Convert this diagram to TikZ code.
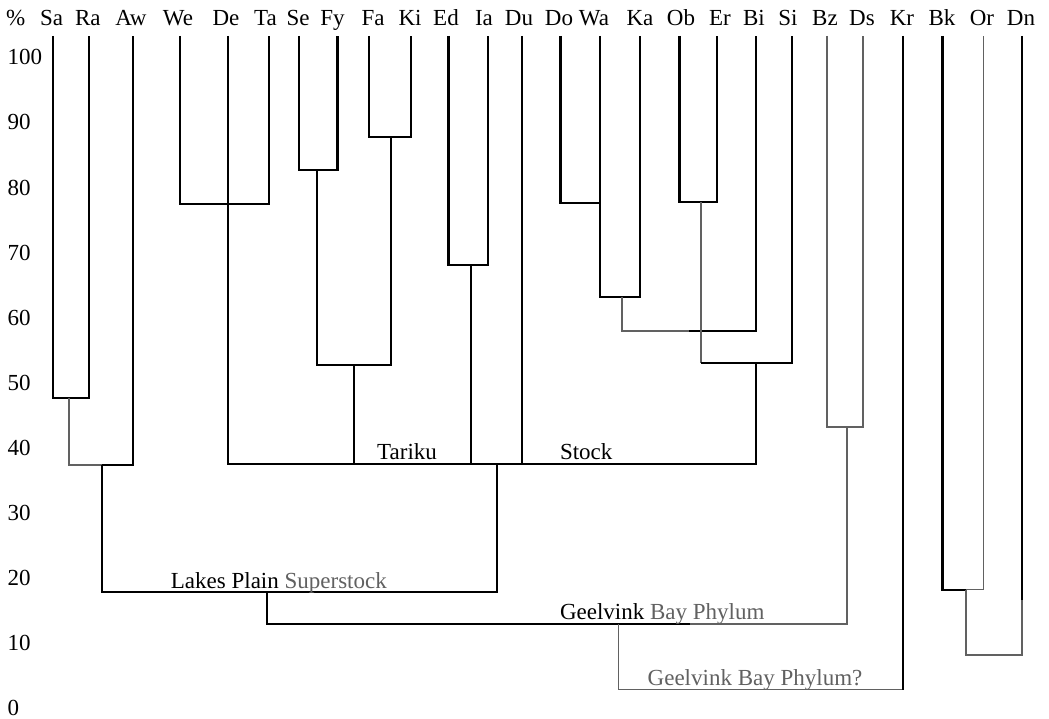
\documentclass[tikz,border=0pt]{standalone}
\usepackage{fontspec}
\setmainfont{Liberation Serif}
\definecolor{scan}{gray}{0.38}
\begin{document}
\begin{tikzpicture}[x=1pt,y=-1pt,
  br/.style={line width=2.1pt, line join=miter, black},
  gbr/.style={line width=1.7pt, line join=miter, scan},
  leaf/.style={anchor=base, inner sep=0pt, font=\fontsize{23}{27}\selectfont},
  axn/.style={anchor=base west, inner sep=0pt, font=\fontsize{23}{27}\selectfont},
  grp/.style={anchor=base west, inner sep=0pt, font=\fontsize{23}{27}\selectfont}]
\useasboundingbox[fill=white] (0,0) rectangle (1049,719);

% header labels
\node[leaf] (lpc) at (15.8,25.5) {\%};
\foreach \n/\x in {Sa/51.7,Ra/87.8,Aw/131,We/178,De/226,Ta/265.5,Se/298,Fy/332.5,
  Fa/373,Ki/410,Ed/446,Ia/484,Du/519,Do/559,Wa/594,Ka/640,Ob/681,Er/720,Bi/754,
  Si/788,Bz/825,Ds/862,Kr/902,Bk/942,Or/982,Dn/1021}
  \node[leaf] (l\n) at (\x,25.5) {\n};

% axis numbers
\foreach \v [count=\i from 0] in {100,90,80,70,60,50,40,30,20,10,0}
  \node[axn] (ax\v) at (7.5,{57.3+65.1*\i+7.6}) {\v};

% tops of leaf lines
\foreach \n/\x in {Sa/52.7,Ra/89,Aw/133.3,We/180,De/228.3,Ta/269,Se/299,Fy/337.5,
  Fa/369.3,Ki/411,Ed/448.5,Ia/487.7,Du/521.7,Do/560.5,Wa/600.3,Ka/639.8,Ob/679.5,
  Er/716.6,Bi/756.3,Si/792,Bz/827,Ds/863,Kr/902.8,Bk/942.5,Or/983.5,Dn/1021.7}
  \coordinate (t\n) at (\x,36);

% join points
\coordinate (jSaRa) at (69.3,398);
\coordinate (jSRA)  at (102,465);
\coordinate (jWT)   at (228.3,204.2);
\coordinate (jTar)  at (497,464);
\coordinate (jSF)   at (316.8,170);
\coordinate (jFK)   at (391,137.3);
\coordinate (jSFFK) at (354.3,365);
\coordinate (jEI)   at (471,265.4);
\coordinate (jDW)   at (600.3,203);
\coordinate (jDWK)  at (621.7,296.7);
\coordinate (jDWKB) at (689,330.7);
\coordinate (jOE)   at (700.7,202.4);
\coordinate (jOES)  at (756.3,362.7);
\coordinate (jLP)   at (267,591.6);
\coordinate (jBD)   at (847.3,426.7);
\coordinate (jGB)   at (618.5,624);
\coordinate (jGK)   at (760,689.5);
\coordinate (jBO)   at (966,589.6);
\coordinate (jBOD)  at (994,654.8);

% Lakes Plain part
\draw[br] (tSa) |- (jSaRa) -| (tRa);
\draw[gbr] (jSaRa) |- (jSRA);
\draw[br] (jSRA) -| (tAw);
\draw[br] (tWe) |- (jWT) -| (tTa);
\draw[br] (tDe) |- (jTar) -| (jOES);
\draw[br] (tSe) |- (jSF) -| (tFy);
\draw[br] (tFa) |- (jFK) -| (tKi);
\draw[br] (jSF) |- (jSFFK) -| (jFK);
\draw[br] (jSFFK) -- (jSFFK |- jTar);
\draw[br] (tEd) |- (jEI) -| (tIa);
\draw[br] (jEI) -- (jEI |- jTar);
\draw[br] (tDu) -- (tDu |- jTar);
\draw[br] (tDo) |- (jDW);
\draw[br] (tWa) |- (jDWK) -| (tKa);
\draw[gbr] (jDWK) |- (jDWKB);
\draw[br] (jDWKB) -| (tBi);
\draw[br] (tOb) |- (jOE) -| (tEr);
\draw[gbr] (jOE) -- (jOE |- jOES);
\draw[br] (jOE |- jOES) -| (tSi);
\draw[br] (jSRA) |- (jLP) -| (jTar);

% Geelvink Bay part
\draw[gbr] (tBz) |- (jBD) -| (tDs);
\draw[br] (jLP) |- (jGB) -- (690,624);
\draw[gbr] (690,624) -| (jBD);
\draw[gbr] (jGB) |- (jGK) -| (tKr);
\draw[br] (tKr) -- (tKr |- jGK);
\draw[br] (tBk) |- (jBO);
\draw[gbr] (jBO) -| (tOr);
\draw[gbr] (jBO) |- (jBOD) -| (tDn);
\draw[br] (tDn) -- (1021.7,600);

% group labels
\node[grp] (gTar) at (377,459) {Tariku};
\node[grp] (gSto) at (559.8,459) {Stock};
\node[grp] (gLPS) at (170.7,588) {Lakes Plain \textcolor{scan}{Superstock}};
\node[grp] (gGBP) at (559.8,619) {Geelvink \textcolor{scan}{Bay Phylum}};
\node[grp, text=scan] (gGBQ) at (647.5,685) {Geelvink Bay Phylum?};
\end{tikzpicture}
\end{document}
